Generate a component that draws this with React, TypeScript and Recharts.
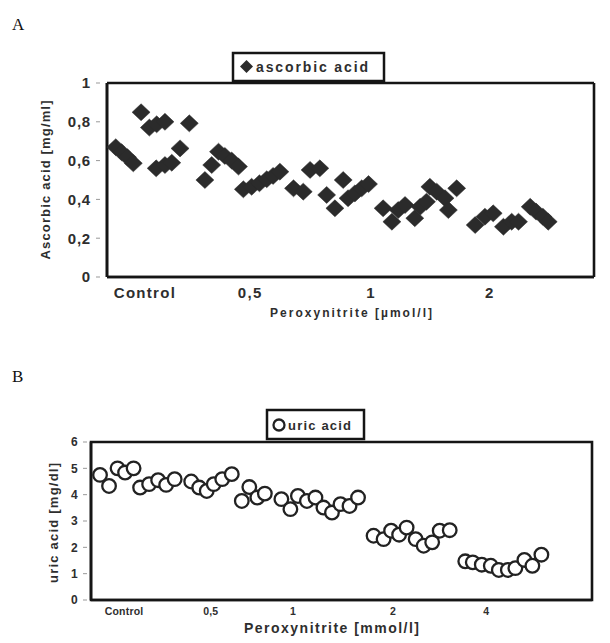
import React from 'react';
import { ScatterChart, Scatter, XAxis, YAxis, ReferenceLine, ReferenceArea } from 'recharts';

// Panel A – ascorbic acid (mg/ml); x = position along the dose axis (0–100)
const ascorbicX = [1.8, 3.0, 4.2, 5.4, 7.0, 8.7, 10.1, 10.2, 11.9, 11.9, 13.3, 15.0, 16.9,
  20.1, 21.5, 22.9, 24.2, 25.6, 27.0, 28.0, 29.7, 31.3, 32.8, 34.1, 35.5,
  38.3, 40.3, 41.7, 43.7, 45.1, 46.8, 48.5, 49.5, 50.9, 52.3, 53.7,
  56.7, 58.5, 59.8, 61.2, 63.2, 64.3, 65.6, 66.3, 67.7, 69.4, 70.1, 71.8,
  75.6, 77.6, 79.3, 81.4, 83.1, 84.5, 86.9, 88.1, 89.5, 90.6];
const ascorbicY = [0.669, 0.643, 0.617, 0.586, 0.849, 0.770, 0.560, 0.787, 0.800, 0.577, 0.589, 0.663, 0.792,
  0.500, 0.577, 0.646, 0.624, 0.600, 0.569, 0.452, 0.465, 0.483, 0.504, 0.521, 0.543,
  0.457, 0.440, 0.552, 0.560, 0.423, 0.354, 0.500, 0.406, 0.431, 0.457, 0.479,
  0.354, 0.285, 0.345, 0.371, 0.303, 0.362, 0.388, 0.465, 0.440, 0.406, 0.345, 0.457,
  0.268, 0.311, 0.328, 0.259, 0.285, 0.285, 0.362, 0.337, 0.311, 0.285];
const doseTicksA = [7.8, 29.4, 54.2, 78.6];
const doseLabelsA = ['Control', '0,5', '1', '2'];
const yTicksA = [0, 0.2, 0.4, 0.6, 0.8, 1];

// Panel B – uric acid (mg/dl)
const uricX = [1.8, 3.6, 5.3, 6.8, 8.5, 9.8, 11.6, 13.4, 15.0, 16.7,
  20.0, 21.6, 23.1, 24.5, 26.2, 28.1,
  30.1, 31.6, 33.2, 34.7, 38.0, 39.8, 41.3, 43.1, 44.8, 46.4, 48.1, 49.8, 51.6, 53.3,
  56.4, 58.4, 59.9, 61.5, 63.0, 64.8, 66.4, 68.1, 69.6, 71.6,
  74.7, 76.2, 78.0, 79.8, 81.4, 83.2, 84.7, 86.5, 88.1, 89.9];
const uricY = [4.75, 4.33, 5.0, 4.84, 5.0, 4.27, 4.40, 4.55, 4.37, 4.59,
  4.50, 4.27, 4.14, 4.40, 4.59, 4.78,
  3.76, 4.29, 3.89, 4.04, 3.83, 3.45, 3.95, 3.76, 3.89, 3.51, 3.32, 3.64, 3.57, 3.89,
  2.44, 2.31, 2.63, 2.48, 2.75, 2.31, 2.06, 2.19, 2.63, 2.65,
  1.47, 1.43, 1.34, 1.30, 1.14, 1.14, 1.21, 1.52, 1.30, 1.72];
const doseTicksB = [6.6, 23.9, 40.3, 60.3, 78.9];
const doseLabelsB = ['Control', '0,5', '1', '2', '4'];
const yTicksB = [0, 1, 2, 3, 4, 5, 6];

const dataA = ascorbicX.map((x, i) => ({ x, y: ascorbicY[i] }));
const dataB = uricX.map((x, i) => ({ x, y: uricY[i] }));

const FONT = '"Liberation Sans", Arial, Helvetica, sans-serif';
const INK = '#2e2e2e';
const LINE = '#151515';

const Diamond = (p: any) => {
  const { cx, cy } = p;
  if (cx == null || cy == null) return null;
  return (
    <polygon
      points={`${cx},${cy - 8.5} ${cx + 9},${cy} ${cx},${cy + 8.5} ${cx - 9},${cy}`}
      fill="#2b2b2b"
      stroke="#2b2b2b"
      strokeWidth={0.5}
    />
  );
};

const Ring = (p: any) => {
  const { cx, cy } = p;
  if (cx == null || cy == null) return null;
  return <circle cx={cx} cy={cy} r={6.8} fill="#fff" stroke="#222" strokeWidth={2.3} />;
};

const makeXTick = (labels: string[], ticks: number[], size: number, dy: number, ls: number) => (p: any) => {
  const idx = ticks.indexOf(p.payload.value);
  return (
    <text x={p.x} y={p.y + dy} textAnchor="middle" fontFamily={FONT} fontWeight={700}
      fontSize={size} fill={INK} letterSpacing={ls}>
      {labels[idx] ?? ''}
    </text>
  );
};

const makeYTick = (size: number, ls: number) => (p: any) => (
  <g>
    <line x1={p.x + 5} x2={p.x + 9} y1={p.y} y2={p.y} stroke="#999" strokeWidth={1} />
    <text x={p.x} y={p.y} dy="0.36em" textAnchor="end" fontFamily={FONT} fontWeight={700}
      fontSize={size} fill={INK} letterSpacing={ls}>
      {String(p.payload.value).replace('.', ',')}
    </text>
  </g>
);

export default function App() {
  return (
    <div style={{ position: 'absolute', left: 0, top: 0, width: 610, height: 643, background: '#fff' }}>
      <div style={{ position: 'absolute', left: 0, top: 0 }}>
        <ScatterChart width={610} height={330} margin={{ top: 83, right: 16, bottom: 23, left: 47 }}>
          <XAxis type="number" dataKey="x" domain={[0, 100]} ticks={doseTicksA} height={30}
            stroke={LINE} strokeWidth={2.6} tickLine={false} tickSize={0} tickMargin={0}
            tick={makeXTick(doseLabelsA, doseTicksA, 15, 21, 1.3)} interval={0} />
          <YAxis type="number" dataKey="y" domain={[0, 1]} ticks={yTicksA} width={60}
            stroke={LINE} strokeWidth={2.6} tickLine={false} tickSize={0} tickMargin={16}
            tick={makeYTick(15, 0.8)} interval={0} />
          <ReferenceLine y={1} stroke={LINE} strokeWidth={2.6} ifOverflow="visible" />
          <ReferenceLine x={100} stroke={LINE} strokeWidth={2.6} ifOverflow="visible" />
          <ReferenceLine y={0} stroke={LINE} strokeWidth={2.6} ifOverflow="visible" />
          <ReferenceLine x={0} stroke={LINE} strokeWidth={2.6} ifOverflow="visible" />
          <Scatter data={dataA} shape={Diamond} isAnimationActive={false} />
        </ScatterChart>
      </div>
      <div style={{ position: 'absolute', left: 0, top: 330 }}>
        <ScatterChart width={610} height={313} margin={{ top: 112, right: 18, bottom: 13, left: 31 }}>
          <XAxis type="number" dataKey="x" domain={[0, 100]} ticks={doseTicksB} height={30}
            stroke={LINE} strokeWidth={2.6} tickLine={false} tickSize={0} tickMargin={0}
            tick={makeXTick(doseLabelsB, doseTicksB, 10.5, 15, 0.2)} interval={0} />
          <YAxis type="number" dataKey="y" domain={[0, 6]} ticks={yTicksB} width={60}
            stroke={LINE} strokeWidth={2.6} tickLine={false} tickSize={0} tickMargin={13}
            tick={makeYTick(12, 0.3)} interval={0} />
          <ReferenceArea x1={0} x2={100} y1={0} y2={6} fill="#fff" fillOpacity={0}
            stroke={LINE} strokeWidth={2.6} ifOverflow="visible" />
          <Scatter data={dataB} shape={Ring} isAnimationActive={false} />
        </ScatterChart>
      </div>
      <svg width={610} height={643} style={{ position: 'absolute', left: 0, top: 0, pointerEvents: 'none' }}>
        {/* Panel A */}
        <text x={12} y={30} fontFamily='"Liberation Serif", "Times New Roman", serif' fontSize={17} fill="#111">A</text>
        <rect x={233} y={53} width={151} height={28} fill="#fff" stroke="#151515" strokeWidth={2.5} />
        <polygon points="246.5,60 253,66.5 246.5,73 240,66.5" fill="#2b2b2b" />
        <text x={256} y={72} fontFamily={FONT} fontWeight={700} fontSize={14} fill={INK}
          textLength={112} lengthAdjust="spacing">ascorbic acid</text>
        <text x={270} y={317} fontFamily={FONT} fontWeight={700} fontSize={12} fill={INK}
          textLength={162} lengthAdjust="spacing">Peroxynitrite [µmol/l]</text>
        <text transform="translate(50,180) rotate(-90)" textAnchor="middle" fontFamily={FONT}
          fontWeight={700} fontSize={13} fill={INK} textLength={159} lengthAdjust="spacing">
          Ascorbic acid [mg/ml]
        </text>
        {/* Panel B */}
        <text x={12} y={382} fontFamily='"Liberation Serif", "Times New Roman", serif' fontSize={17} fill="#111">B</text>
        <rect x={267} y={410} width={97} height={29} fill="#fff" stroke="#151515" strokeWidth={2.5} />
        <circle cx={279} cy={425} r={5.5} fill="#fff" stroke="#222" strokeWidth={2.3} />
        <text x={288} y={430} fontFamily={FONT} fontWeight={700} fontSize={13} fill={INK}
          textLength={63} lengthAdjust="spacing">uric acid</text>
        <text x={244} y={633} fontFamily={FONT} fontWeight={700} fontSize={14} fill={INK}
          textLength={175} lengthAdjust="spacing">Peroxynitrite [mmol/l]</text>
        <text transform="translate(58,523) rotate(-90)" textAnchor="middle" fontFamily={FONT}
          fontWeight={700} fontSize={13} fill={INK} textLength={120} lengthAdjust="spacing">
          uric acid [mg/dl]
        </text>
      </svg>
    </div>
  );
}
